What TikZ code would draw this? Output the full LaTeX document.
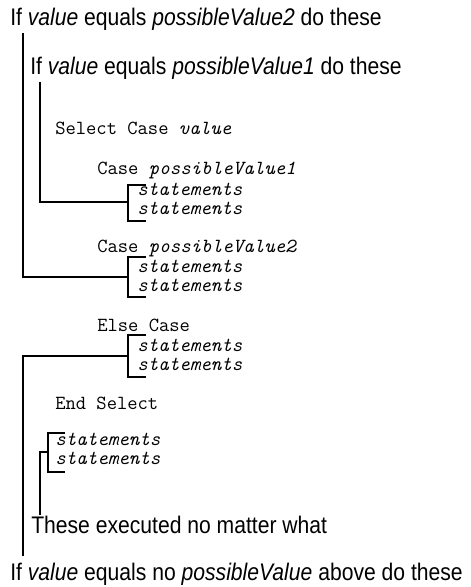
\documentclass[tikz,border=0pt]{standalone}
\usepackage{fontspec}
\setmainfont{Liberation Sans}[FakeStretch=0.88]
\usetikzlibrary{positioning}

\begin{document}
\begin{tikzpicture}[
  x=0.75pt, y=-0.75pt,
  note/.style={anchor=base west, inner sep=0pt, font=\fontsize{18}{21}\selectfont},
  code/.style={anchor=base west, inner sep=0pt, font=\fontsize{15}{18}\selectfont\ttfamily},
  lnk/.style={line width=0.8pt},
  brk/.style={line width=0.8pt}
]
  \useasboundingbox (0,0) rectangle (471,587);

  % explanations
  \node[note] (if2) at (10,25) {If \textit{value} equals \textit{possibleValue2} do these};
  \node[note] (if1) at (30,74) {If \textit{value} equals \textit{possibleValue1} do these};
  \node[note] (any) at (31,533) {These executed no matter what};
  \node[note] (els) at (10,580) {If \textit{value} equals no \textit{possibleValue} above do these};

  % the code
  \node[code] (sel) at (55,134) {Select Case \textit{value}};
  \node[code] (c1) at (97,174) {Case \textit{possibleValue1}};
  \node[code] (s11) at (137,195) {\textit{statements}};
  \node[code] (s12) at (137,214) {\textit{statements}};
  \node[code] (c2) at (97,252) {Case \textit{possibleValue2}};
  \node[code] (s21) at (137,272) {\textit{statements}};
  \node[code] (s22) at (137,291) {\textit{statements}};
  \node[code] (ce) at (97,331) {Else Case};
  \node[code] (s31) at (137,351) {\textit{statements}};
  \node[code] (s32) at (137,370) {\textit{statements}};
  \node[code] (es) at (55,409) {End Select};
  \node[code] (s41) at (55,445) {\textit{statements}};
  \node[code] (s42) at (55,464) {\textit{statements}};

  % brackets
  \draw[brk] (146,185) -- (128,185) -- (128,221) -- (146,221);
  \draw[brk] (146,257) -- (128,257) -- (128,297) -- (146,297);
  \draw[brk] (146,335) -- (128,335) -- (128,377) -- (146,377);
  \draw[brk] (65,433) -- (48,433) -- (48,472) -- (65,472);
  \coordinate (b1) at (128,202);
  \coordinate (b2) at (128,277);
  \coordinate (b3) at (128,356);
  \coordinate (b4) at (48,452);

  % leaders
  \coordinate (t2) at (23,33);
  \coordinate (t1) at (40,82);
  \coordinate (tany) at (40,515);
  \coordinate (tels) at (23,556);
  \draw[lnk] (t2) |- (b2);
  \draw[lnk] (t1) |- (b1);
  \draw[lnk] (tels) |- (b3);
  \draw[lnk] (tany) |- (b4);
\end{tikzpicture}
\end{document}
